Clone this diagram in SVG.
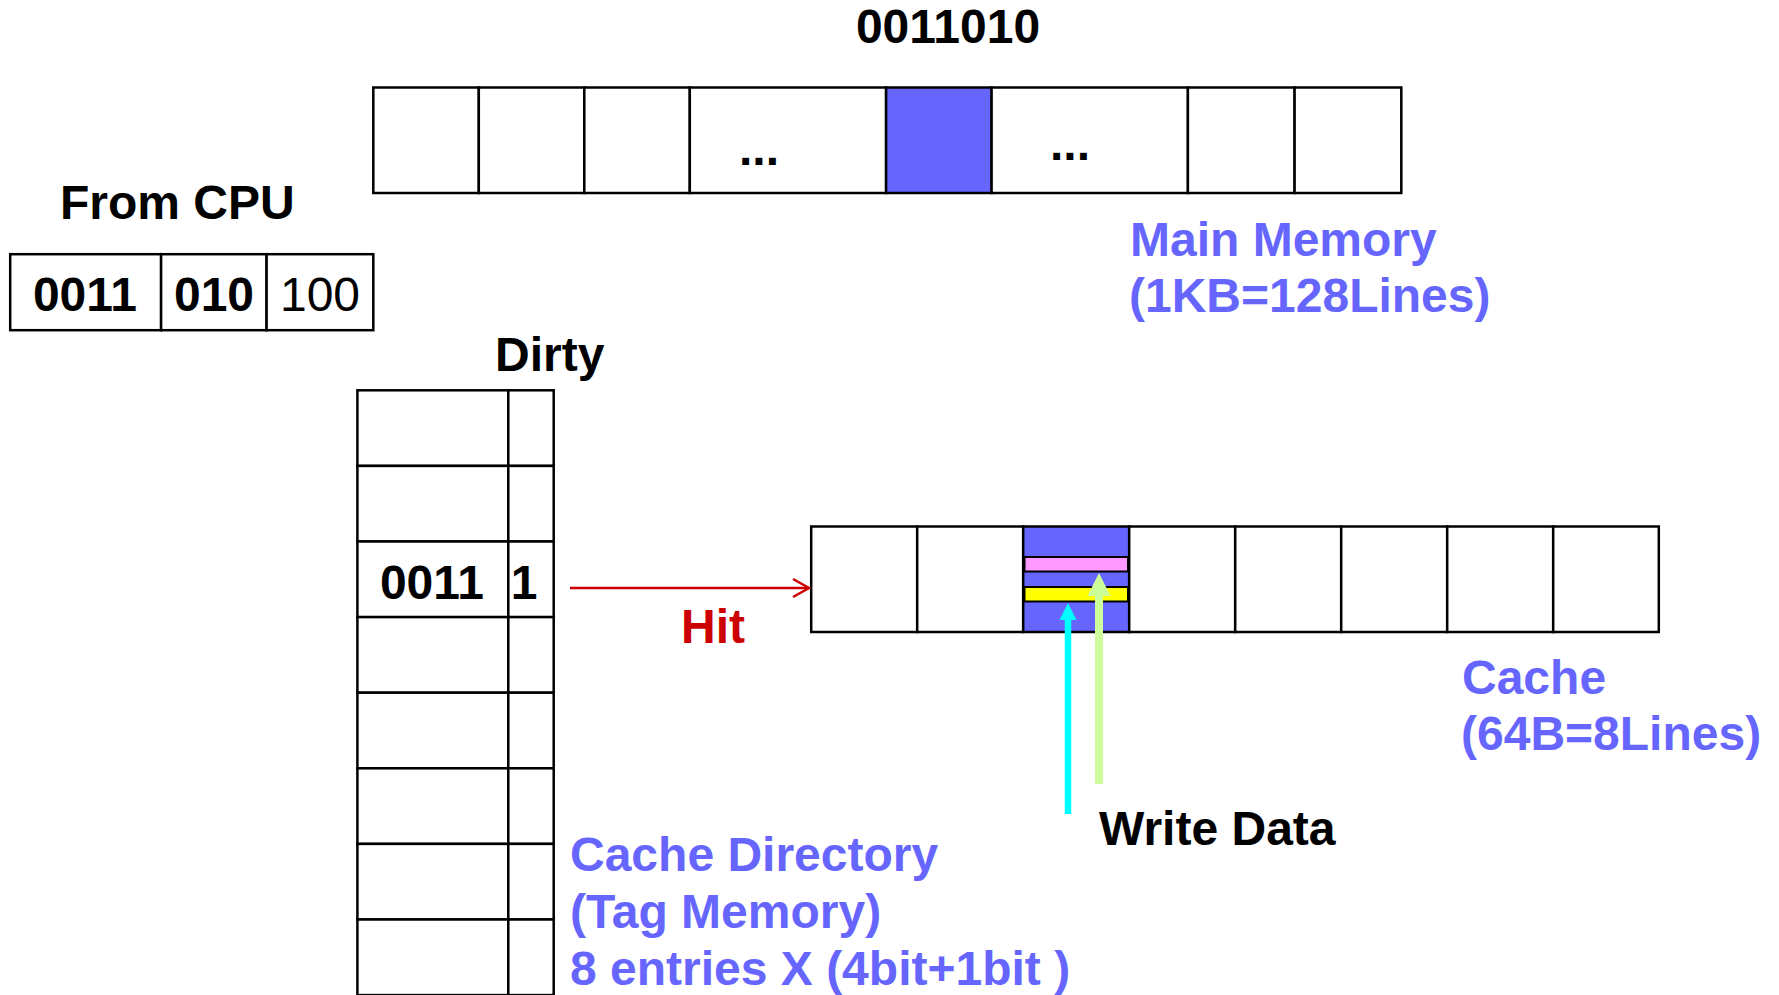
<svg xmlns="http://www.w3.org/2000/svg" width="1779" height="995" viewBox="0 0 1779 995">
<style>
text{font-family:"Liberation Sans",Arial,sans-serif;font-weight:bold;font-size:48px;fill:#000}
.blue{fill:#6666FF}
.red{fill:#CC0000}
.reg{font-weight:normal}
.cell{fill:#fff;stroke:#000;stroke-width:2.5}
.hl{fill:#6666FF;stroke:#000;stroke-width:2.5}
.mid{text-anchor:middle}
</style>
<rect width="1779" height="995" fill="#fff"/>

<g id="main-memory">
<text class="mid" x="948" y="43">0011010</text>
<rect class="cell" x="373.3" y="87.5" width="105.5" height="105.5"/>
<rect class="cell" x="478.8" y="87.5" width="105.5" height="105.5"/>
<rect class="cell" x="584.3" y="87.5" width="105.5" height="105.5"/>
<rect class="cell" x="689.8" y="87.5" width="196.3" height="105.5"/>
<rect class="hl" x="886.1" y="87.5" width="105.5" height="105.5"/>
<rect class="cell" x="991.6" y="87.5" width="196.3" height="105.5"/>
<rect class="cell" x="1187.9" y="87.5" width="106.7" height="105.5"/>
<rect class="cell" x="1294.6" y="87.5" width="106.7" height="105.5"/>
<text class="mid" x="759" y="165" font-size="50">...</text>
<text class="mid" x="1070" y="160" font-size="50">...</text>
<text class="blue" x="1130" y="256">Main Memory</text>
<text class="blue" x="1129" y="312">(1KB=128Lines)</text>
</g>

<g id="cpu-address">
<text x="60" y="219">From CPU</text>
<rect class="cell" x="10.2" y="254.2" width="150.9" height="76"/>
<rect class="cell" x="161.1" y="254.2" width="105.5" height="76"/>
<rect class="cell" x="266.6" y="254.2" width="106.7" height="76"/>
<text class="mid" x="85" y="311">0011</text>
<text class="mid" x="214" y="311">010</text>
<text class="mid reg" x="320" y="311">100</text>
</g>

<g id="tag-memory">
<text x="495" y="371">Dirty</text>
<g>
<rect class="cell" x="357.4" y="390.3" width="150.9" height="75.6"/>
<rect class="cell" x="508.3" y="390.3" width="45.4" height="75.6"/>
<rect class="cell" x="357.4" y="465.9" width="150.9" height="75.6"/>
<rect class="cell" x="508.3" y="465.9" width="45.4" height="75.6"/>
<rect class="cell" x="357.4" y="541.5" width="150.9" height="75.6"/>
<rect class="cell" x="508.3" y="541.5" width="45.4" height="75.6"/>
<rect class="cell" x="357.4" y="617.1" width="150.9" height="75.6"/>
<rect class="cell" x="508.3" y="617.1" width="45.4" height="75.6"/>
<rect class="cell" x="357.4" y="692.7" width="150.9" height="75.6"/>
<rect class="cell" x="508.3" y="692.7" width="45.4" height="75.6"/>
<rect class="cell" x="357.4" y="768.3" width="150.9" height="75.6"/>
<rect class="cell" x="508.3" y="768.3" width="45.4" height="75.6"/>
<rect class="cell" x="357.4" y="843.9" width="150.9" height="75.6"/>
<rect class="cell" x="508.3" y="843.9" width="45.4" height="75.6"/>
<rect class="cell" x="357.4" y="919.5" width="150.9" height="75.6"/>
<rect class="cell" x="508.3" y="919.5" width="45.4" height="75.6"/>
</g>
<text class="mid" x="432" y="599">0011</text>
<text class="mid" x="524" y="599">1</text>
<text class="blue" x="570" y="871">Cache Directory</text>
<text class="blue" x="570" y="928">(Tag Memory)</text>
<text class="blue" x="570" y="985">8 entries X (4bit+1bit )</text>
</g>

<g id="cache">
<rect class="cell" x="811.2" y="526.5" width="106" height="105.5"/>
<rect class="cell" x="917.2" y="526.5" width="106" height="105.5"/>
<rect class="hl" x="1023.2" y="526.5" width="106" height="105.5"/>
<rect x="1024.5" y="557" width="103.5" height="14.5" fill="#FF99FF" stroke="#000" stroke-width="2"/>
<rect x="1024.5" y="587" width="103.5" height="14.5" fill="#FFFF00" stroke="#000" stroke-width="2"/>
<rect class="cell" x="1129.2" y="526.5" width="106" height="105.5"/>
<rect class="cell" x="1235.2" y="526.5" width="106" height="105.5"/>
<rect class="cell" x="1341.2" y="526.5" width="106" height="105.5"/>
<rect class="cell" x="1447.2" y="526.5" width="106" height="105.5"/>
<rect class="cell" x="1553.2" y="526.5" width="105.6" height="105.5"/>
<text class="blue" x="1462" y="694">Cache</text>
<text class="blue" x="1461" y="750">(64B=8Lines)</text>
</g>

<g id="write-data">
<text x="1099" y="845">Write Data</text>
</g>

<g id="connectors">
<g id="hit">
<line x1="570" y1="588" x2="809" y2="588" stroke="#CC0000" stroke-width="2.5"/>
<polyline points="793,579 809,588 793,597" fill="none" stroke="#CC0000" stroke-width="2.5"/>
<text class="red" x="681" y="643">Hit</text>
</g>
<g id="cyan-arrow">
<line x1="1068" y1="814" x2="1068" y2="618" stroke="#00FFFF" stroke-width="6.5"/>
<polygon points="1068,603 1059.5,620 1076.5,620" fill="#00FFFF"/>
</g>
<g id="green-arrow">
<line x1="1099" y1="784" x2="1099" y2="594" stroke="#CCFF99" stroke-width="8"/>
<polygon points="1099,573 1087.5,596 1110.5,596" fill="#CCFF99"/>
</g>
</g>
</svg>
